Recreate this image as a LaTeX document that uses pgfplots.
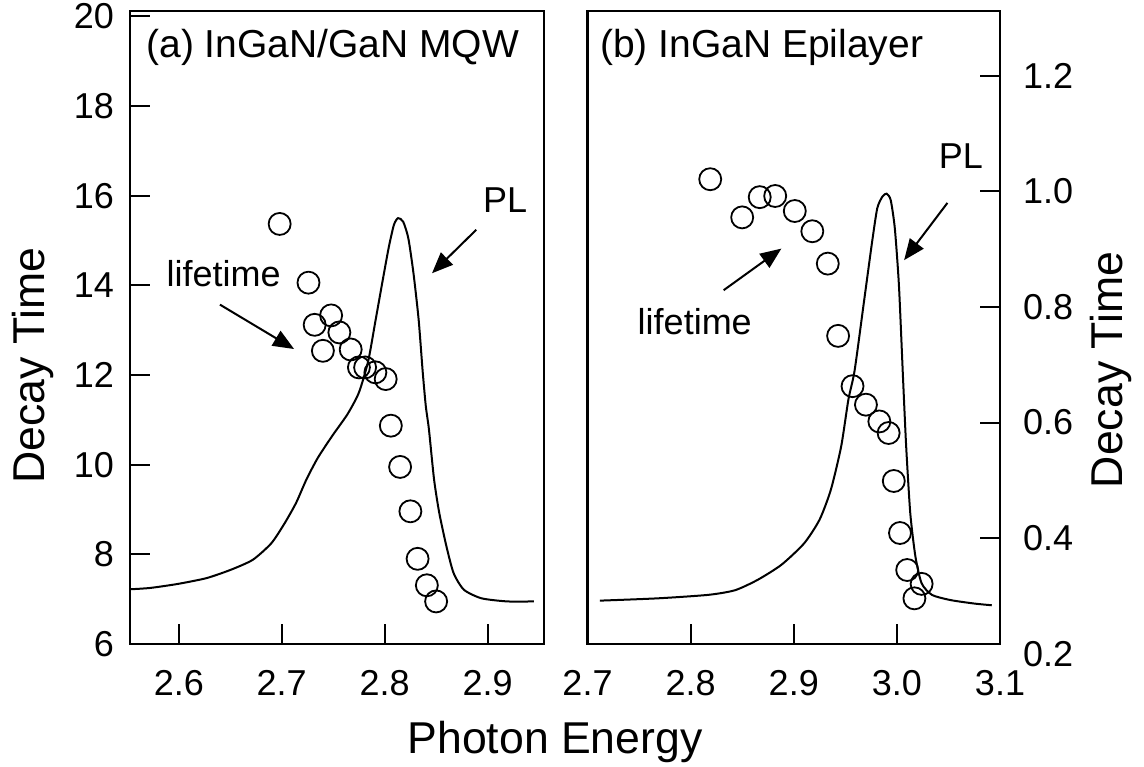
\documentclass[border=0pt]{standalone}
\usepackage{fontspec}
\setmainfont{Liberation Sans}
\usepackage{pgfplots}
\pgfplotsset{compat=1.18}
\usetikzlibrary{arrows.meta}

\pgfplotsset{
  panel/.style={
    scale only axis, height=316.5pt,
    tick align=inside, major tick length=10pt,
    axis line style={line width=1.1pt},
    every tick/.style={black, line width=1pt},
    /pgf/number format/assume math mode=true,
    tick label style={font=\fontsize{18}{21}\selectfont},
    x tick label style={yshift=-9.5pt, /pgf/number format/.cd, fixed, fixed zerofill, precision=1, /tikz/.cd},
    xtick pos=left,
    clip=false,
    every axis y label/.style={rotate=90, anchor=center, font=\fontsize{22.3}{26}\selectfont},
  },
  lifemark/.style={only marks, mark=o, mark size=5.5pt, mark options={line width=0.9pt, black}},
  plcurve/.style={no marks, black, line width=1pt, smooth, tension=0.4},
}
\tikzset{
  ann/.style={font=\fontsize{18}{21}\selectfont, inner sep=0pt, anchor=base},
  arr/.style={-{Triangle[length=10.5pt,width=8.5pt]}, line width=1pt, black},
}

\begin{document}
\begin{tikzpicture}
% ---------------- (a) ----------------
\begin{axis}[panel, at={(0pt,0pt)}, anchor=south west, width=207pt,
  xmin=2.5526, xmax=2.9548, ymin=6, ymax=20.12,
  xtick={2.6,2.7,2.8,2.9}, ytick={6,8,...,20},
  ytick pos=left,
  y tick label style={xshift=-4.5pt},
  ylabel={Decay Time},
  every axis y label/.append style={at={(axis description cs:-0.234,0.44)}},
]
\addplot[plcurve] coordinates {
(2.552,7.22) (2.572,7.25) (2.599,7.34) (2.627,7.47) (2.651,7.66) (2.672,7.88)
(2.690,8.25) (2.703,8.70) (2.714,9.15) (2.724,9.67) (2.735,10.15) (2.749,10.64)
(2.764,11.13) (2.775,11.61) (2.784,12.31) (2.791,13.2) (2.798,14.1) (2.804,14.85)
(2.809,15.35) (2.813,15.50) (2.818,15.42) (2.823,15.05) (2.828,14.27) (2.833,13.24)
(2.837,12.06) (2.840,11.3) (2.843,10.79) (2.848,9.67) (2.853,8.93) (2.860,8.18)
(2.867,7.58) (2.877,7.21) (2.894,7.02) (2.919,6.95) (2.945,6.95)
};
\addplot[lifemark] coordinates {
(2.698,15.37) (2.726,14.06) (2.732,13.12) (2.740,12.54) (2.748,13.33) (2.756,12.95)
(2.767,12.57) (2.775,12.17) (2.781,12.17) (2.791,12.06) (2.801,11.91) (2.806,10.87)
(2.815,9.95) (2.825,8.96) (2.832,7.90) (2.841,7.31) (2.850,6.95)
};
\node[ann, anchor=base west, font=\fontsize{19.5}{23}\selectfont] at (axis description cs:0.0386,0.927) {(a) InGaN/GaN MQW};
\node[ann] at (axis cs:2.917,15.62) {PL};
\node[ann] at (axis cs:2.6435,13.97) {lifetime};
\draw[arr] (axis cs:2.889,15.24) -- (axis cs:2.846,14.27);
\draw[arr] (axis cs:2.640,13.57) -- (axis cs:2.712,12.58);
\end{axis}
% ---------------- (b) ----------------
\begin{axis}[panel, at={(228.75pt,0pt)}, anchor=south west, width=206.25pt,
  xmin=2.7, xmax=3.1, ymin=0.217, ymax=1.312,
  xtick={2.7,2.8,2.9,3.0,3.1}, ytick={0.4,0.6,...,1.2},
  ytick pos=right, yticklabel pos=right,
  y tick label style={xshift=8pt, /pgf/number format/.cd, fixed, fixed zerofill, precision=1, /tikz/.cd},
  ylabel={Decay Time},
  every axis y label/.append style={at={(axis description cs:1.269,0.433)}},
]
\addplot[plcurve] coordinates {
(2.712,0.292) (2.768,0.296) (2.817,0.302) (2.843,0.310) (2.865,0.328) (2.888,0.354)
(2.910,0.391) (2.925,0.432) (2.936,0.484) (2.946,0.559) (2.953,0.640) (2.959,0.690)
(2.968,0.808) (2.976,0.913) (2.981,0.971) (2.986,0.991) (2.990,0.996) (2.994,0.985)
(2.998,0.936) (3.002,0.837) (3.006,0.675) (3.009,0.559) (3.013,0.443) (3.018,0.368)
(3.024,0.322) (3.034,0.302) (3.052,0.293) (3.075,0.287) (3.092,0.284)
};
\addplot[lifemark] coordinates {
(2.819,1.021) (2.850,0.955) (2.867,0.990) (2.882,0.992) (2.901,0.966) (2.918,0.931)
(2.933,0.875) (2.943,0.750) (2.957,0.663) (2.970,0.631) (2.983,0.602) (2.992,0.582)
(2.997,0.499) (3.003,0.409) (3.010,0.345) (3.024,0.321) (3.017,0.296)
};
\node[anchor=west, xshift=8pt, font=\fontsize{18}{21}\selectfont] at (axis cs:3.1,0.2) {0.2};
\node[ann, anchor=base west, font=\fontsize{19.5}{23}\selectfont] at (axis description cs:0.0296,0.927) {(b) InGaN Epilayer};
\node[ann] at (axis cs:3.062,1.040) {PL};
\node[ann] at (axis cs:2.804,0.753) {lifetime};
\draw[arr] (axis cs:3.049,0.980) -- (axis cs:3.007,0.881);
\draw[arr] (axis cs:2.832,0.829) -- (axis cs:2.888,0.901);
\end{axis}
\node[font=\fontsize{22.3}{26}\selectfont, anchor=base, inner sep=0pt] at (212.5pt,-54.5pt) {Photon Energy};
\pgfresetboundingbox
\path[use as bounding box] (-65pt,-61pt) rectangle (507pt,322pt);
\end{tikzpicture}
\end{document}
